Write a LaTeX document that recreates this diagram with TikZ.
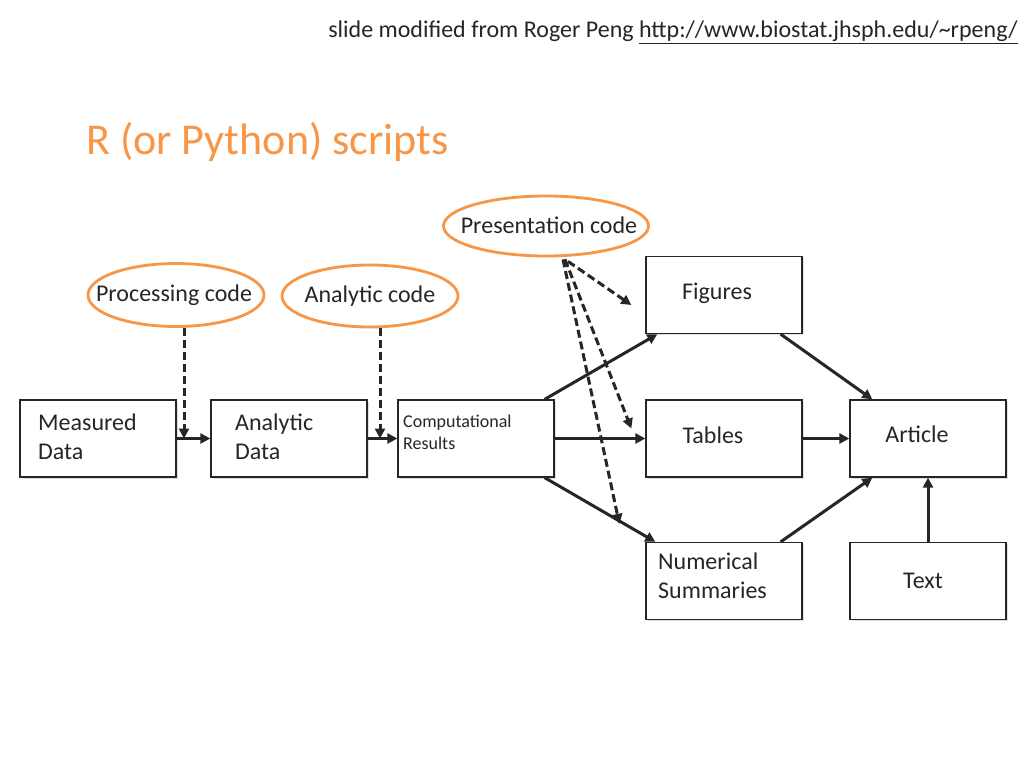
\documentclass[tikz,border=0pt]{standalone}
\usepackage{fontspec}
\setmainfont{Carlito}
\usetikzlibrary{arrows.meta,shadows,calc,shapes.geometric}
\definecolor{orng}{HTML}{F79646}
\definecolor{ink}{HTML}{262626}
\begin{document}
\begin{tikzpicture}[x=1pt,y=-1pt,
  box/.style={draw=ink, line width=1.3pt, fill=white, minimum width=156pt, minimum height=77pt, inner sep=0pt,
    drop shadow={shadow xshift=1.5pt,shadow yshift=-1.5pt,opacity=0.25,fill=gray}},
  oval/.style={draw=orng, line width=2.8pt, ellipse, inner sep=0pt, minimum width=176pt, minimum height=63pt},
  lbl/.style={font=\fontsize{24}{29}\selectfont, anchor=west, align=left, inner sep=0pt, text=ink},
  small/.style={font=\fontsize{18}{22}\selectfont, anchor=west, align=left, inner sep=0pt, text=ink},
  arr/.style={draw=ink, line width=3pt, -{Triangle[length=10pt,width=10pt]}},
  darr/.style={draw=ink, line width=3pt, dash pattern=on 8pt off 4pt, -{Triangle[length=10pt,width=10pt]}}
]
\useasboundingbox (0,0) rectangle (1024,768);
\fill[white] (0,0) rectangle (1024,768);

% header and title
\node[anchor=east, font=\fontsize{24}{28}\selectfont, inner sep=0pt, text=ink] (credit) at (1018,32)
  {slide modified from Roger Peng \underline{http://www.biostat.jhsph.edu/\textasciitilde rpeng/}};
\node[anchor=west, text=orng, font=\fontsize{44}{50}\selectfont, inner sep=0pt] (title) at (86,142) {R (or Python) scripts};

% boxes
\node[box] (meas) at (98,438.5) {};
\node[lbl] (measT) at (38,437) {Measured\\Data};
\node[box] (ana) at (289,438.5) {};
\node[lbl] (anaT) at (235,437) {Analytic\\Data};
\node[box] (comp) at (476,438.5) {};
\node[small] (compT) at (403,432) {Computational\\Results};
\node[box] (fig) at (724,295) {};
\node[lbl, anchor=center] (figT) at (717,293) {Figures};
\node[box] (tab) at (724,438.5) {};
\node[lbl, anchor=center] (tabT) at (713,435) {Tables};
\node[box] (num) at (724,581) {};
\node[lbl] (numT) at (658,576) {Numerical\\Summaries};
\node[box] (art) at (928,438.5) {};
\node[lbl, anchor=center] (artT) at (917,434) {Article};
\node[box] (txt) at (928,581) {};
\node[lbl, anchor=center] (txtT) at (923,581) {Text};

% ellipses
\node[oval] (proc) at (176,295) {};
\node[lbl, anchor=center] (procT) at (174,295) {Processing code};
\node[oval, minimum height=62pt] (anc) at (370,296) {};
\node[lbl, anchor=center] (ancT) at (370,296) {Analytic code};
\node[oval, minimum width=205pt, minimum height=60pt] (pres) at (546,226) {};
\node[lbl, anchor=center] (presT) at (549,225) {Presentation code};

% solid arrows
\draw[arr] (meas.east) -- (ana.west);
\draw[arr] (ana.east) -- (comp.west);
\draw[arr] ($(comp.north east)+(-10,0)$) -- ($(fig.south west)+(12,0)$);
\draw[arr] (comp.east) -- (tab.west);
\draw[arr] ($(comp.south east)+(-10,0)$) -- ($(num.north west)+(10,0)$);
\draw[arr] ($(fig.south east)+(-22,0)$) -- ($(art.north west)+(23,0)$);
\draw[arr] (tab.east) -- (art.west);
\draw[arr] ($(num.north east)+(-22,0)$) -- ($(art.south west)+(23,0)$);
\draw[arr] (txt.north) -- (art.south);

% dashed arrows
\draw[darr] ($(proc.south)+(8,0)$) -- ($(proc.south |- meas.east)+(8,0)$);
\draw[darr] ($(anc.south)+(10,0)$) -- ($(anc.south |- ana.east)+(10,0)$);
\coordinate (pf) at ($(fig.west)+(-14,10)$);
\coordinate (pt) at ($(tab.west)+(-14,-10)$);
\coordinate (pn) at ($(num.north west)+(-26,-18)$);
\draw[darr] ($(pres.south)+(22,4)$) -- (pf);
\draw[darr] ($(pres.south)+(19,2)$) -- (pt);
\draw[darr] ($(pres.south)+(17,2)$) -- (pn);
\end{tikzpicture}
\end{document}
